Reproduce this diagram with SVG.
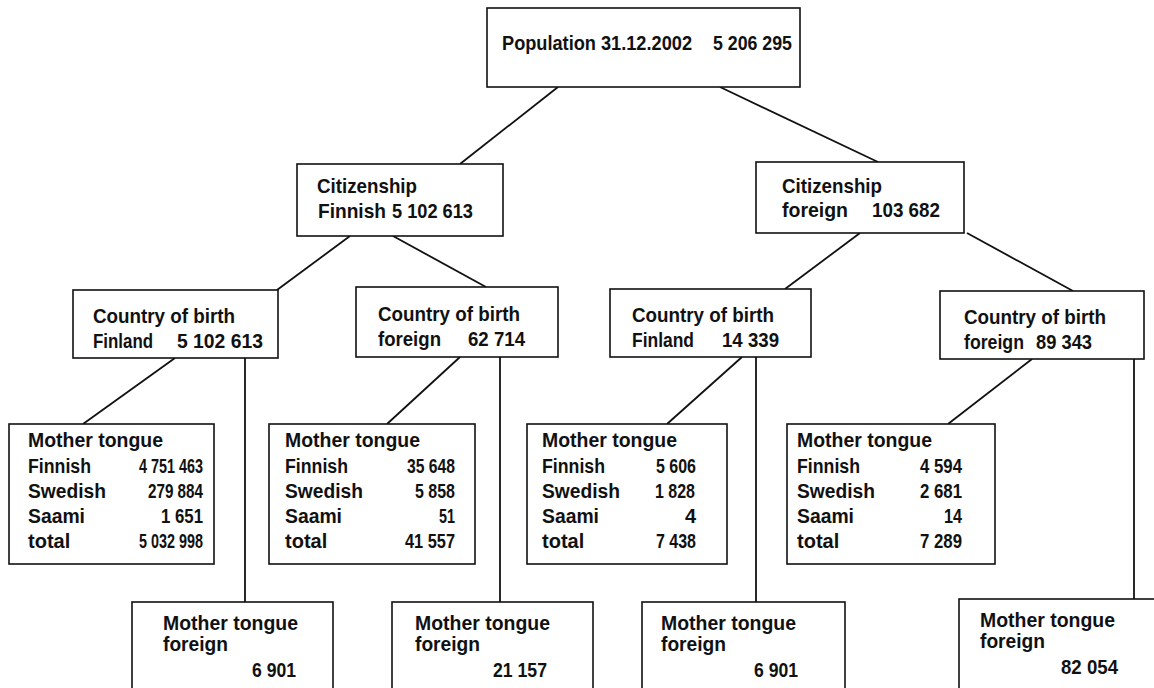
<svg xmlns="http://www.w3.org/2000/svg" width="1154" height="688" viewBox="0 0 1154 688">
<style>
.box{fill:#fff;stroke:#111;stroke-width:1.6}
.ln{stroke:#111;stroke-width:1.8;fill:none}
text{font-family:"Liberation Sans",Arial,sans-serif;font-weight:bold;fill:#111}
.b{font-size:21px}
.m{font-size:20px}
.r{text-anchor:end}
</style>
<rect width="1154" height="688" fill="#fff"/>
<g id="connectors">
<line class="ln" x1="558" y1="87" x2="460" y2="164"/>
<line class="ln" x1="720" y1="87" x2="878" y2="162"/>
<line class="ln" x1="350" y1="236" x2="277" y2="290"/>
<line class="ln" x1="393" y1="236" x2="486" y2="287"/>
<line class="ln" x1="860" y1="233" x2="785" y2="289"/>
<line class="ln" x1="967" y1="233" x2="1073" y2="291"/>
<line class="ln" x1="175" y1="358" x2="83" y2="424"/>
<line class="ln" x1="460" y1="357" x2="387" y2="424"/>
<line class="ln" x1="742" y1="357" x2="667" y2="424"/>
<line class="ln" x1="1032" y1="359" x2="948" y2="424"/>
<line class="ln" x1="245" y1="358" x2="245" y2="602"/>
<line class="ln" x1="500" y1="357" x2="500" y2="602"/>
<line class="ln" x1="756" y1="357" x2="756" y2="602"/>
<line class="ln" x1="1134" y1="359" x2="1134" y2="599"/>
</g>
<g id="population">
<rect class="box" x="487" y="8" width="313" height="79"/>
<text class="b" x="502" y="50" textLength="190" lengthAdjust="spacingAndGlyphs">Population 31.12.2002</text>
<text class="b" x="713" y="50" textLength="79" lengthAdjust="spacingAndGlyphs">5 206 295</text>
</g>
<g id="cit-finnish">
<rect class="box" x="297" y="164" width="206" height="72"/>
<text class="b" x="317" y="193" textLength="100" lengthAdjust="spacingAndGlyphs">Citizenship</text>
<text class="b" x="318" y="218" textLength="68" lengthAdjust="spacingAndGlyphs">Finnish</text>
<text class="b" x="392" y="218" textLength="81" lengthAdjust="spacingAndGlyphs">5 102 613</text>
</g>
<g id="cit-foreign">
<rect class="box" x="756" y="162" width="208" height="71"/>
<text class="b" x="782" y="193" textLength="100" lengthAdjust="spacingAndGlyphs">Citizenship</text>
<text class="b" x="782" y="217" textLength="66" lengthAdjust="spacingAndGlyphs">foreign</text>
<text class="b" x="872" y="217" textLength="68" lengthAdjust="spacingAndGlyphs">103 682</text>
</g>
<g id="cob-1">
<rect class="box" x="73" y="290" width="205" height="68"/>
<text class="b" x="93" y="323" textLength="142" lengthAdjust="spacingAndGlyphs">Country of birth</text>
<text class="b" x="93" y="348" textLength="60" lengthAdjust="spacingAndGlyphs">Finland</text>
<text class="b" x="177" y="348" textLength="86" lengthAdjust="spacingAndGlyphs">5 102 613</text>
</g>
<g id="cob-2">
<rect class="box" x="356" y="287" width="202" height="70"/>
<text class="b" x="378" y="321" textLength="142" lengthAdjust="spacingAndGlyphs">Country of birth</text>
<text class="b" x="378" y="346" textLength="63" lengthAdjust="spacingAndGlyphs">foreign</text>
<text class="b" x="468" y="346" textLength="57" lengthAdjust="spacingAndGlyphs">62 714</text>
</g>
<g id="cob-3">
<rect class="box" x="610" y="289" width="201" height="68"/>
<text class="b" x="632" y="322" textLength="142" lengthAdjust="spacingAndGlyphs">Country of birth</text>
<text class="b" x="632" y="347" textLength="62" lengthAdjust="spacingAndGlyphs">Finland</text>
<text class="b" x="722" y="347" textLength="57" lengthAdjust="spacingAndGlyphs">14 339</text>
</g>
<g id="cob-4">
<rect class="box" x="940" y="291" width="204" height="68"/>
<text class="b" x="964" y="324" textLength="142" lengthAdjust="spacingAndGlyphs">Country of birth</text>
<text class="b" x="964" y="349" textLength="60" lengthAdjust="spacingAndGlyphs">foreign</text>
<text class="b" x="1036" y="349" textLength="56" lengthAdjust="spacingAndGlyphs">89 343</text>
</g>
<g id="mt-1">
<rect class="box" x="9" y="424" width="205" height="140"/>
<text class="m" x="28" y="447" textLength="135" lengthAdjust="spacingAndGlyphs">Mother tongue</text>
<text class="m" x="28" y="473" textLength="63" lengthAdjust="spacingAndGlyphs">Finnish</text>
<text class="m" x="28" y="498" textLength="78" lengthAdjust="spacingAndGlyphs">Swedish</text>
<text class="m" x="28" y="523" textLength="57" lengthAdjust="spacingAndGlyphs">Saami</text>
<text class="m" x="28" y="548">total</text>
<text class="m r" x="203" y="473" textLength="64" lengthAdjust="spacingAndGlyphs">4 751 463</text>
<text class="m r" x="203" y="498" textLength="55" lengthAdjust="spacingAndGlyphs">279 884</text>
<text class="m r" x="203" y="523" textLength="42" lengthAdjust="spacingAndGlyphs">1 651</text>
<text class="m r" x="203" y="548" textLength="64" lengthAdjust="spacingAndGlyphs">5 032 998</text>
</g>
<g id="mt-2">
<rect class="box" x="269" y="424" width="206" height="140"/>
<text class="m" x="285" y="447" textLength="135" lengthAdjust="spacingAndGlyphs">Mother tongue</text>
<text class="m" x="285" y="473" textLength="63" lengthAdjust="spacingAndGlyphs">Finnish</text>
<text class="m" x="285" y="498" textLength="78" lengthAdjust="spacingAndGlyphs">Swedish</text>
<text class="m" x="285" y="523" textLength="57" lengthAdjust="spacingAndGlyphs">Saami</text>
<text class="m" x="285" y="548">total</text>
<text class="m r" x="455" y="473" textLength="48" lengthAdjust="spacingAndGlyphs">35 648</text>
<text class="m r" x="455" y="498" textLength="40" lengthAdjust="spacingAndGlyphs">5 858</text>
<text class="m r" x="455" y="523" textLength="16" lengthAdjust="spacingAndGlyphs">51</text>
<text class="m r" x="455" y="548" textLength="50" lengthAdjust="spacingAndGlyphs">41 557</text>
</g>
<g id="mt-3">
<rect class="box" x="527" y="424" width="200" height="140"/>
<text class="m" x="542" y="447" textLength="135" lengthAdjust="spacingAndGlyphs">Mother tongue</text>
<text class="m" x="542" y="473" textLength="63" lengthAdjust="spacingAndGlyphs">Finnish</text>
<text class="m" x="542" y="498" textLength="78" lengthAdjust="spacingAndGlyphs">Swedish</text>
<text class="m" x="542" y="523" textLength="57" lengthAdjust="spacingAndGlyphs">Saami</text>
<text class="m" x="542" y="548">total</text>
<text class="m r" x="696" y="473" textLength="40" lengthAdjust="spacingAndGlyphs">5 606</text>
<text class="m r" x="695" y="498" textLength="40" lengthAdjust="spacingAndGlyphs">1 828</text>
<text class="m r" x="696" y="523">4</text>
<text class="m r" x="696" y="548" textLength="40" lengthAdjust="spacingAndGlyphs">7 438</text>
</g>
<g id="mt-4">
<rect class="box" x="787" y="424" width="208" height="140"/>
<text class="m" x="797" y="447" textLength="135" lengthAdjust="spacingAndGlyphs">Mother tongue</text>
<text class="m" x="797" y="473" textLength="63" lengthAdjust="spacingAndGlyphs">Finnish</text>
<text class="m" x="797" y="498" textLength="78" lengthAdjust="spacingAndGlyphs">Swedish</text>
<text class="m" x="797" y="523" textLength="57" lengthAdjust="spacingAndGlyphs">Saami</text>
<text class="m" x="797" y="548">total</text>
<text class="m r" x="962" y="473" textLength="42" lengthAdjust="spacingAndGlyphs">4 594</text>
<text class="m r" x="962" y="498" textLength="42" lengthAdjust="spacingAndGlyphs">2 681</text>
<text class="m r" x="962" y="523" textLength="18" lengthAdjust="spacingAndGlyphs">14</text>
<text class="m r" x="962" y="548" textLength="42" lengthAdjust="spacingAndGlyphs">7 289</text>
</g>
<g id="mtf-1">
<rect class="box" x="132" y="602" width="201" height="100"/>
<text class="m" x="163" y="630" textLength="135" lengthAdjust="spacingAndGlyphs">Mother tongue</text>
<text class="m" x="163" y="651" textLength="65" lengthAdjust="spacingAndGlyphs">foreign</text>
<text class="m r" x="296" y="677" textLength="44" lengthAdjust="spacingAndGlyphs">6 901</text>
</g>
<g id="mtf-2">
<rect class="box" x="392" y="602" width="201" height="100"/>
<text class="m" x="415" y="630" textLength="135" lengthAdjust="spacingAndGlyphs">Mother tongue</text>
<text class="m" x="415" y="651" textLength="65" lengthAdjust="spacingAndGlyphs">foreign</text>
<text class="m r" x="547" y="677" textLength="54" lengthAdjust="spacingAndGlyphs">21 157</text>
</g>
<g id="mtf-3">
<rect class="box" x="642" y="602" width="203" height="100"/>
<text class="m" x="661" y="630" textLength="135" lengthAdjust="spacingAndGlyphs">Mother tongue</text>
<text class="m" x="661" y="651" textLength="65" lengthAdjust="spacingAndGlyphs">foreign</text>
<text class="m r" x="798" y="677" textLength="44" lengthAdjust="spacingAndGlyphs">6 901</text>
</g>
<g id="mtf-4">
<rect class="box" x="959" y="599" width="210" height="100"/>
<text class="m" x="980" y="627" textLength="135" lengthAdjust="spacingAndGlyphs">Mother tongue</text>
<text class="m" x="980" y="648" textLength="65" lengthAdjust="spacingAndGlyphs">foreign</text>
<text class="m r" x="1118" y="674" textLength="57" lengthAdjust="spacingAndGlyphs">82 054</text>
</g>
</svg>
